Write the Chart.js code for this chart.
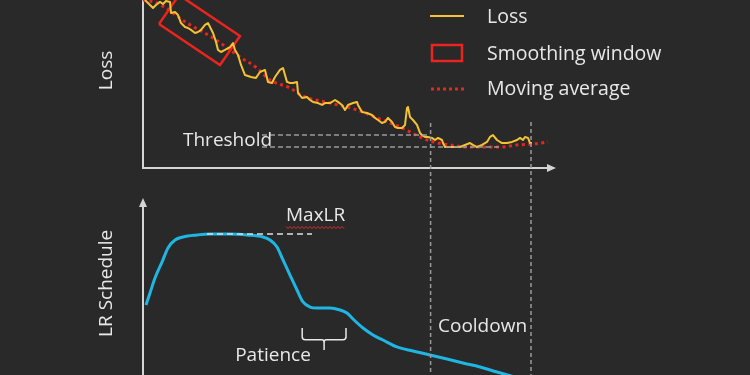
<!DOCTYPE html>
<html><head><meta charset="utf-8">
<script src="https://cdn.jsdelivr.net/npm/chart.js@4.4.0/dist/chart.umd.min.js"></script>
<style>html,body{margin:0;padding:0;background:#292929;}canvas{display:block}</style>
</head><body>
<canvas id="c" width="750" height="375"></canvas>
<script>
// ---- data (training steps on x) ----
const lossSteps = [0.5,1.5,2.5,3.25,4.25,5,5.75,6.75,7,8,8.75,9.5,10.5,11.25,12,13,13.75,14.5,15.5,16.25,16.75,17.5,18.25,18.75,19.5,20.5,21.75,22.5,23,23.75,24.5,25.5,27,28.25,29.25,30.5,31.25,32.25,33,34.25,35,36,36.75,37.5,38.5,38.75,39.75,41,41.75,42.5,43.75,44.75,45.5,46.75,48,48.75,49.75,50.5,51.25,52.5,53.5,53.75,54.75,56,57.25,58,58.75,59.75,60.5,61.25,62.25,63,63.75,64.75,65.5,66,66.25,66.75,67.5,68.5,69.25,69.75,70.5,71.25,72.25,73,73.75,74.75,75,75.5,76.75,78,79.25,80.5,81.75,82.5,83.5,84.75,86,86.75,87.5,88.5,89.75,91,92.25,93.5,94.25,95,95.5,96.25,96.75,97.25];
const lossValues = [10.5,10.25,10.0,10.19,10.38,10.25,10.44,10.38,9.69,9.75,9.56,9.06,8.81,8.75,8.63,8.44,8.5,8.63,8.94,9.06,8.81,8.44,7.88,7.38,7.25,7.38,7.56,7.81,7.38,7.06,6.44,5.81,5.69,5.63,6.0,6.13,5.38,5.31,5.69,6.13,6.25,5.38,5.31,5.31,5.38,4.69,4.38,4.44,4.25,4.13,4.06,3.94,4.06,4.06,4.25,4.13,3.94,3.63,3.94,4.06,4.13,3.94,3.5,3.44,3.31,3.13,3.0,2.81,2.88,3.13,2.88,2.56,2.5,2.5,2.69,3.75,3.81,3.19,3.0,2.69,2.19,2.06,1.94,1.94,1.88,1.75,1.88,1.75,1.56,1.31,1.31,1.31,1.31,1.44,1.56,1.44,1.31,1.44,1.63,1.94,2.06,1.75,1.56,1.56,1.63,1.75,1.88,1.75,1.94,1.88,1.56,1.56];
const avgSteps = [0,3.5,11,17.5,24.25,28.5,31.75,36.75,40,46.75,53.5,58.5,64.25,69.25,72.5,76.75,81,85,89.25,93.5,97.5,101.25];
const avgValues = [10.5,10.31,9.06,8.13,6.94,6.25,5.5,5.0,4.5,4.06,3.63,3.13,2.56,1.94,1.63,1.44,1.31,1.31,1.31,1.44,1.5,1.63];
const windowSteps = [4,19.25,24.25,9,4];
const windowValues = [9.0,6.44,8.25,10.81,9.0];
const thresholdValues = [2.06,1.31];
const thresholdStartStep = 29.75;
const thresholdEndSteps = [71.75,89.25];
const phaseSteps = [71.9,97];          // start / end of cooldown
const phaseTopLoss = 2.81;
const lrSteps = [0.75,1.75,3,4.75,6.25,8,10,13.5,16.75,21.75,26,30,31.75,33.5,35,36.75,38.5,40,41.75,43.5,46.75,49.25,51,52.5,55,57.5,60,63.5,67.5,71.75,76,80,84.25,88.5,93.75];
const lrValues = [0.496,0.582,0.688,0.801,0.901,0.957,0.979,0.993,1.0,1.0,0.993,0.979,0.957,0.908,0.816,0.709,0.603,0.518,0.482,0.475,0.475,0.461,0.44,0.397,0.333,0.284,0.248,0.199,0.170,0.142,0.113,0.085,0.057,0.021,-0.021];
const maxLR = 1.0;
const maxLRSteps = [16,42.25];
const lossAxisEnd = 102.5;
const lrAxisTop = 1.234;
const legendLabels = ['Loss','Smoothing window','Moving average'];

// ---- styles ----
const BG = '#292929', TEXT = '#e8e8e8', AXIS = '#d4d4d4', GRID = '#9a9a9a';
const YELLOW = '#f4c232', RED = '#ea241e', CYAN = '#1fb6e4';
const FONT = '19px "Open Sans", sans-serif';
const LEGEND_FONT = '19.5px "Open Sans", sans-serif';

const pts = (xs, ys) => xs.map((v, i) => ({x: v, y: ys[i]}));
const line = (data, axis, color, width, dash, extra) => Object.assign({
  data, yAxisID: axis, borderColor: color, borderWidth: width, borderDash: dash || [],
  pointRadius: 0, fill: false, tension: 0, borderCapStyle: 'butt'
}, extra || {});

const datasets = [
  line(pts([thresholdStartStep, thresholdEndSteps[0]], [thresholdValues[0], thresholdValues[0]]), 'yLoss', GRID, 1.5, [5,3]),
  line(pts([thresholdStartStep, thresholdEndSteps[1]], [thresholdValues[1], thresholdValues[1]]), 'yLoss', GRID, 1.5, [5,3]),
  line(pts([phaseSteps[0], phaseSteps[0]], [phaseTopLoss, -13]), 'yLoss', GRID, 1.5, [4,3]),
  line(pts([phaseSteps[1], phaseSteps[1]], [phaseTopLoss + 0.06, -13]), 'yLoss', GRID, 1.5, [4,3]),
  line(pts(lossSteps, lossValues), 'yLoss', YELLOW, 2, [], {borderJoinStyle: 'round'}),
  line(pts(avgSteps, avgValues), 'yLoss', RED, 3, [3,3.5], {cubicInterpolationMode: 'monotone'}),
  line(pts(windowSteps, windowValues), 'yLoss', RED, 2.5, [], {borderJoinStyle: 'miter'}),
  line(pts(maxLRSteps, [maxLR, maxLR]), 'yLR', '#e0e0e0', 1.5, [6,4]),
  line(pts(lrSteps, lrValues), 'yLR', CYAN, 3, [], {cubicInterpolationMode: 'monotone'})
];

const decor = {
  id: 'decor',
  beforeDatasetsDraw(chart) {
    const {ctx, scales: {x, yLoss, yLR}} = chart;
    ctx.save();
    ctx.strokeStyle = AXIS; ctx.fillStyle = AXIS; ctx.lineWidth = 2;
    const x0 = x.getPixelForValue(0);
    const yBase = yLoss.getPixelForValue(0);
    const xEnd = x.getPixelForValue(lossAxisEnd);
    ctx.beginPath();
    ctx.moveTo(x0, 0); ctx.lineTo(x0, yBase); ctx.lineTo(xEnd - 4, yBase); ctx.stroke();
    ctx.beginPath(); ctx.moveTo(xEnd + 3, yBase); ctx.lineTo(xEnd - 6, yBase - 4); ctx.lineTo(xEnd - 6, yBase + 4); ctx.closePath(); ctx.fill();
    const yB = yLR.getPixelForValue(0), yT = yLR.getPixelForValue(lrAxisTop);
    ctx.beginPath(); ctx.moveTo(x0, yB); ctx.lineTo(x0, yT + 4); ctx.stroke();
    ctx.beginPath(); ctx.moveTo(x0, yT - 3); ctx.lineTo(x0 - 4, yT + 6); ctx.lineTo(x0 + 4, yT + 6); ctx.closePath(); ctx.fill();
    ctx.restore();
  },
  afterDatasetsDraw(chart) {
    const {ctx, scales: {x, yLoss, yLR}} = chart;
    ctx.save();
    ctx.font = FONT; ctx.fillStyle = TEXT; ctx.textBaseline = 'middle'; ctx.textAlign = 'left';
    // axis titles
    const x0 = x.getPixelForValue(0);
    const rot = (txt, cx, cy) => { ctx.save(); ctx.translate(cx, cy); ctx.rotate(-Math.PI/2); ctx.textAlign = 'center'; ctx.fillText(txt, 0, 0); ctx.restore(); };
    rot('Loss', x0 - 36, yLoss.getPixelForValue(6.1));
    rot('LR Schedule', x0 - 36, yLR.getPixelForValue(0.65));
    // threshold label
    const ty = (yLoss.getPixelForValue(thresholdValues[0]) + yLoss.getPixelForValue(thresholdValues[1])) / 2;
    ctx.fillText('Threshold', x.getPixelForValue(10), ty);
    // MaxLR label with squiggle
    const mx = x.getPixelForValue(35.75), my = yLR.getPixelForValue(maxLR) - 18;
    ctx.fillText('MaxLR', mx, my);
    const mw = ctx.measureText('MaxLR').width;
    ctx.strokeStyle = '#e0302a'; ctx.lineWidth = 1;
    ctx.beginPath();
    for (let i = 0; i <= mw; i += 2) { const yy = my + 11 + ((i / 2) % 2 ? 1.5 : -0.5); i === 0 ? ctx.moveTo(mx + i, yy) : ctx.lineTo(mx + i, yy); }
    ctx.stroke();
    // Patience bracket and label
    const bl = x.getPixelForValue(39.8), br = x.getPixelForValue(50.75), bc = (bl + br) / 2;
    const bt = yLR.getPixelForValue(0.333), bm = yLR.getPixelForValue(0.25), bb = yLR.getPixelForValue(0.178);
    ctx.strokeStyle = TEXT; ctx.lineWidth = 1.5;
    ctx.beginPath();
    ctx.moveTo(bl, bt); ctx.lineTo(bl, bm - 3); ctx.quadraticCurveTo(bl, bm, bl + 3, bm);
    ctx.lineTo(bc - 2, bm); ctx.quadraticCurveTo(bc, bm, bc, bm + 3); ctx.lineTo(bc, bb);
    ctx.moveTo(bc, bm + 3); ctx.quadraticCurveTo(bc, bm, bc + 2, bm);
    ctx.lineTo(br - 3, bm); ctx.quadraticCurveTo(br, bm, br, bm - 3); ctx.lineTo(br, bt);
    ctx.stroke();
    ctx.textAlign = 'center';
    ctx.fillText('Patience', x.getPixelForValue(32.5), yLR.getPixelForValue(0.14));
    ctx.textAlign = 'left';
    ctx.fillText('Cooldown', x.getPixelForValue(73.75), yLR.getPixelForValue(0.340));
    // legend
    const lx = 430, lw = 34, tx = 487;
    const rows = [16, 53, 88];
    ctx.lineWidth = 2; ctx.strokeStyle = YELLOW;
    ctx.beginPath(); ctx.moveTo(lx, rows[0]); ctx.lineTo(lx + lw, rows[0]); ctx.stroke();
    ctx.strokeStyle = RED; ctx.lineWidth = 2.5;
    ctx.strokeRect(lx + 2, rows[1] - 8, lw - 4, 16);
    ctx.lineWidth = 3; ctx.setLineDash([3, 3]);
    ctx.beginPath(); ctx.moveTo(lx + 1, rows[2] + 1); ctx.lineTo(lx + lw, rows[2] + 1); ctx.stroke();
    ctx.setLineDash([]);
    ctx.fillStyle = TEXT; ctx.font = LEGEND_FONT;
    legendLabels.forEach((t, i) => ctx.fillText(t, tx, rows[i] + 1));
    ctx.restore();
  }
};

new Chart(document.getElementById('c'), {
  type: 'line',
  data: {datasets},
  options: {
    responsive: false, animation: false, devicePixelRatio: 1, events: [],
    layout: {padding: 0},
    plugins: {legend: {display: false}, tooltip: {enabled: false}},
    scales: {
      x: {type: 'linear', display: false, min: -35.75, max: 151.75},
      yLoss: {type: 'linear', display: false, min: -12.9375, max: 10.5},
      yLR: {type: 'linear', display: false, min: 0, max: 375 / 141}
    }
  },
  plugins: [decor]
});
</script>
</body></html>
